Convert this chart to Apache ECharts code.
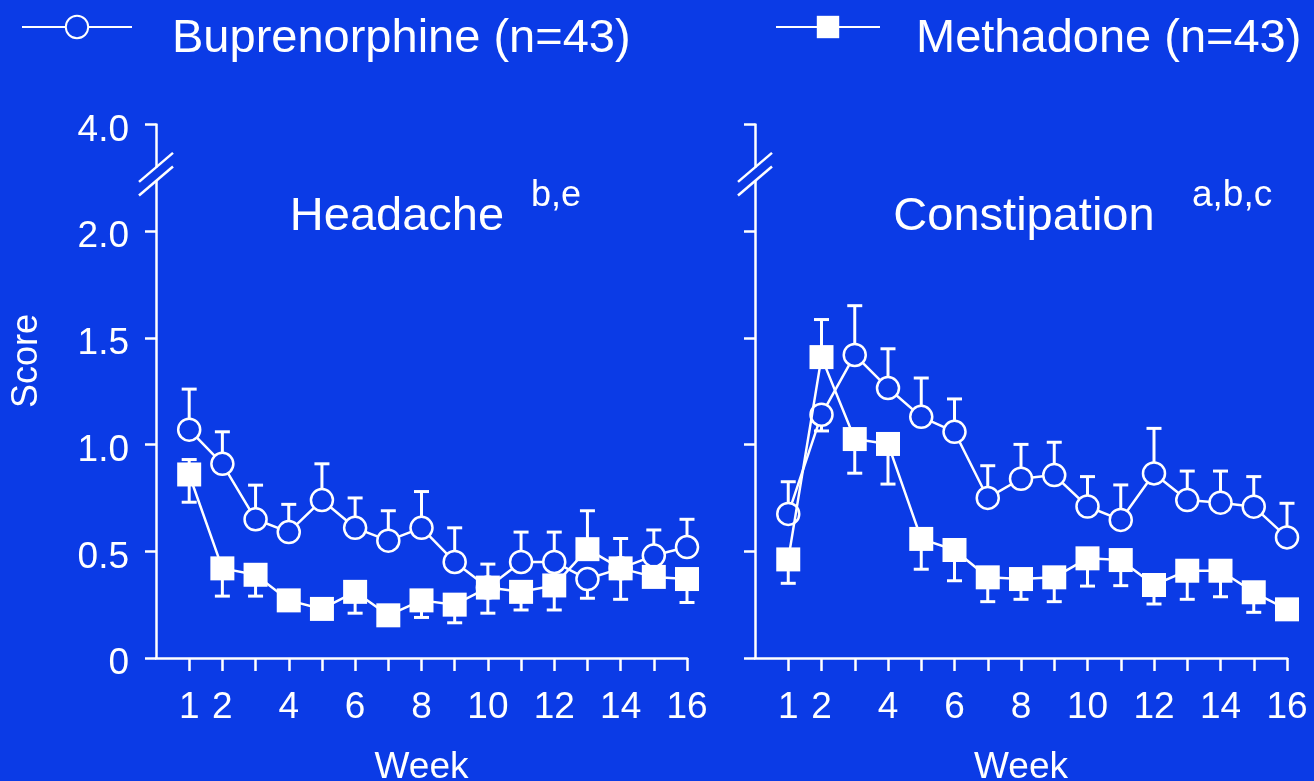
<!DOCTYPE html>
<html>
<head>
<meta charset="utf-8">
<title>Headache and constipation scores by week</title>
<script src="https://cdn.jsdelivr.net/npm/echarts@6/dist/echarts.min.js"></script>
<style>
  html, body { margin: 0; padding: 0; background: #0b3be6; }
  #chart { width: 1314px; height: 781px; }
</style>
</head>
<body>
<div id="chart"></div>
<script>
// ---- data -------------------------------------------------------------
const weeks = [1, 2, 3, 4, 5, 6, 7, 8, 9, 10, 11, 12, 13, 14, 15, 16];
const weekTickLabels = [1, 2, 4, 6, 8, 10, 12, 14, 16];

// score axis: the top tick sits above an axis break and reads 4.0
const scoreTicks = [0, 0.5, 1.0, 1.5, 2.0, 2.5];
const scoreTickLabels = ['0', '0.5', '1.0', '1.5', '2.0', '4.0'];

const seriesNames = ['Buprenorphine (n=43)', 'Methadone (n=43)'];
const panelTitles = ['Headache', 'Constipation'];
const panelNotes = ['b,e', 'a,b,c'];

// Headache
const headacheBup   = [1.07, 0.91, 0.65, 0.59, 0.74, 0.61, 0.55, 0.61, 0.45, 0.33, 0.45, 0.45, 0.37, 0.42, 0.48, 0.52];
const headacheBupHi = [1.26, 1.06, 0.81, 0.72, 0.91, 0.75, 0.69, 0.78, 0.61, 0.44, 0.59, 0.59, null, 0.56, 0.60, 0.65];
const headacheBupLo = [null, null, null, null, null, null, null, null, null, null, null, null, 0.28, null, null, null];
const headacheMet   = [0.86, 0.42, 0.39, 0.27, 0.23, 0.31, 0.20, 0.27, 0.25, 0.33, 0.31, 0.34, 0.51, 0.42, 0.38, 0.37];
const headacheMetHi = [0.93, null, null, null, null, null, null, null, null, null, null, null, 0.69, null, null, null];
const headacheMetLo = [0.73, 0.29, 0.29, null, null, 0.21, null, 0.19, 0.165, 0.21, 0.225, 0.225, null, 0.275, null, 0.26];

// Constipation
const constipBup   = [0.675, 1.14, 1.42, 1.265, 1.13, 1.06, 0.75, 0.84, 0.857, 0.71, 0.647, 0.865, 0.74, 0.728, 0.709, 0.565];
const constipBupHi = [0.826, null, 1.651, 1.449, 1.312, 1.214, 0.901, 1.001, 1.011, 0.85, 0.811, 1.076, 0.876, 0.876, 0.85, 0.725];
const constipBupLo = [null, 1.064, null, null, null, null, null, null, null, null, null, null, null, null, null, null];
const constipMet   = [0.462, 1.41, 1.026, 1.003, 0.558, 0.506, 0.378, 0.37, 0.378, 0.467, 0.459, 0.342, 0.409, 0.409, 0.308, 0.228];
const constipMetHi = [null, 1.586, null, null, null, null, null, null, null, null, null, null, null, null, null, null];
const constipMetLo = [0.35, null, 0.866, 0.815, 0.416, 0.362, 0.264, 0.275, 0.264, 0.337, 0.339, 0.253, 0.275, 0.287, 0.214, null];

// ---- styling ----------------------------------------------------------
const BG = '#0b3be6';
const FG = '#ffffff';
const FONT = '"Liberation Sans", Arial, Helvetica, sans-serif';
const BREAK_AT = 2.267; // where the axis break marks sit on the score scale

const chart = echarts.init(document.getElementById('chart'), null, { renderer: 'canvas' });

function pairs(values) {
  return weeks.map((w, i) => [w, values[i]]);
}
function whiskers(values, ends) {
  const out = [];
  weeks.forEach((w, i) => { if (ends[i] != null) out.push([w, values[i], ends[i]]); });
  return out;
}

function renderWhisker(params, api) {
  const x = api.value(0), v = api.value(1), e = api.value(2);
  const p0 = api.coord([x, v]);
  const p1 = api.coord([x, e]);
  const half = 7.5;
  const style = { stroke: FG, lineWidth: 3, fill: null };
  return {
    type: 'group',
    children: [
      { type: 'line', shape: { x1: p0[0], y1: p0[1], x2: p1[0], y2: p1[1] }, style },
      { type: 'line', shape: { x1: p1[0] - half, y1: p1[1], x2: p1[0] + half, y2: p1[1] }, style }
    ]
  };
}

function xAxisFor(gridIndex) {
  return {
    type: 'value', gridIndex, min: 0, max: 16, interval: 1,
    name: 'Week', nameLocation: 'middle', nameGap: 91,
    nameTextStyle: { color: FG, fontSize: 37, fontFamily: FONT },
    axisLine: { show: true, lineStyle: { color: FG, width: 2.5 } },
    axisTick: { show: true, inside: false, length: 13, lineStyle: { color: FG, width: 2.5 }, customValues: weeks },
    axisLabel: { show: true, color: FG, fontSize: 37, fontFamily: FONT, margin: 31, customValues: weekTickLabels },
    splitLine: { show: false }
  };
}

function yAxisFor(gridIndex, showLabels) {
  return {
    type: 'value', gridIndex, min: 0, max: 2.5, interval: 0.5,
    axisLine: { show: true, lineStyle: { color: FG, width: 2.5 } },
    axisTick: { show: true, inside: false, length: 11, lineStyle: { color: FG, width: 2.5 } },
    axisLabel: {
      show: showLabels, color: FG, fontSize: 37, fontFamily: FONT, margin: 27,
      // score labels sit a little below their ticks
      formatter: (v) => {
        const k = scoreTicks.findIndex(t => Math.abs(t - v) < 1e-6);
        return k >= 0 ? '{v|' + scoreTickLabels[k] + '}' : '';
      },
      rich: {
        v: { color: FG, fontSize: 37, fontFamily: FONT, padding: [12, 0, 0, 0] }
      }
    },
    splitLine: { show: false }
  };
}

function lineSeries(name, data, gridIndex, isSquare) {
  return {
    type: 'line', name, xAxisIndex: gridIndex, yAxisIndex: gridIndex,
    data: pairs(data),
    symbol: isSquare ? 'rect' : 'circle',
    symbolSize: isSquare ? 24 : 22,
    lineStyle: { color: FG, width: 2.5 },
    itemStyle: isSquare
      ? { color: FG, borderColor: FG, borderWidth: 0 }
      : { color: BG, borderColor: FG, borderWidth: 2.5 },
    z: isSquare ? 4 : 3,
    silent: true
  };
}

function whiskerSeries(data, gridIndex) {
  return {
    type: 'custom', xAxisIndex: gridIndex, yAxisIndex: gridIndex,
    renderItem: renderWhisker, data, z: 2, silent: true,
    encode: { x: 0, y: [1, 2] }
  };
}

// legend entries: a spacer line above the name drops the text below the key
function legendFor(name, left, keyWidth, leftPad) {
  return {
    data: [name], left, top: -10, itemWidth: keyWidth, itemHeight: 28,
    formatter: '{s| }\n{t|{name}}',
    textStyle: {
      color: FG, fontFamily: FONT, fontSize: 47,
      rich: {
        s: { fontSize: 10, lineHeight: 24, padding: [0, 0, 0, leftPad] },
        t: { color: FG, fontFamily: FONT, fontSize: 47, lineHeight: 54, padding: [0, 0, 0, leftPad] }
      }
    },
    selectedMode: false
  };
}

const option = {
  backgroundColor: BG,
  animation: false,
  textStyle: { fontFamily: FONT },
  grid: [
    { left: 156, top: 124.5, width: 531, height: 533.5, outerBoundsMode: 'none', containLabel: false },
    { left: 755, top: 124.5, width: 532, height: 533.5, outerBoundsMode: 'none', containLabel: false }
  ],
  xAxis: [xAxisFor(0), xAxisFor(1)],
  yAxis: [yAxisFor(0, true), yAxisFor(1, false)],
  legend: [legendFor(seriesNames[0], 16, 110, 35), legendFor(seriesNames[1], 770, 104, 31)],
  series: [
    whiskerSeries(whiskers(headacheBup, headacheBupHi).concat(whiskers(headacheBup, headacheBupLo)), 0),
    whiskerSeries(whiskers(headacheMet, headacheMetHi).concat(whiskers(headacheMet, headacheMetLo)), 0),
    whiskerSeries(whiskers(constipBup, constipBupHi).concat(whiskers(constipBup, constipBupLo)), 1),
    whiskerSeries(whiskers(constipMet, constipMetHi).concat(whiskers(constipMet, constipMetLo)), 1),
    lineSeries(seriesNames[0], headacheBup, 0, false),
    lineSeries(seriesNames[1], headacheMet, 0, true),
    lineSeries(seriesNames[0], constipBup, 1, false),
    lineSeries(seriesNames[1], constipMet, 1, true)
  ]
};

chart.setOption(option);

// ---- panel titles, axis title and axis-break marks ---------------------
function breakMarks(gridIndex) {
  const c = chart.convertToPixel({ gridIndex }, [0, BREAK_AT]);
  const x = c[0], y = c[1];
  const dx = 17, dy = 14.5, sep = 6.8;
  const lineStyle = { stroke: FG, lineWidth: 2.5 };
  return [
    { type: 'rect', shape: { x: x - 4, y: y - sep, width: 8, height: sep * 2 }, style: { fill: BG }, z: 10 },
    { type: 'line', shape: { x1: x - dx, y1: y - sep + dy, x2: x + dx, y2: y - sep - dy }, style: lineStyle, z: 11 },
    { type: 'line', shape: { x1: x - dx, y1: y + sep + dy, x2: x + dx, y2: y + sep - dy }, style: lineStyle, z: 11 }
  ];
}

const titleCenters = [397, 1024];
const noteLefts = [531, 1192];
const noteSizes = [36, 37];
const graphics = [];
panelTitles.forEach((t, i) => {
  graphics.push({
    type: 'text', x: titleCenters[i], y: 217, z: 12,
    style: { text: t, fill: FG, font: '47px ' + FONT, textAlign: 'center', textVerticalAlign: 'middle' }
  });
  graphics.push({
    type: 'text', x: noteLefts[i], y: 196, z: 12,
    style: { text: panelNotes[i], fill: FG, font: noteSizes[i] + 'px ' + FONT, textAlign: 'left', textVerticalAlign: 'middle' }
  });
});
graphics.push({
  type: 'text', x: 27, y: 361, rotation: Math.PI / 2, z: 12,
  style: { text: 'Score', fill: FG, font: '36px ' + FONT, textAlign: 'center', textVerticalAlign: 'middle' }
});
graphics.push(...breakMarks(0), ...breakMarks(1));

chart.setOption({ graphic: graphics });
</script>
</body>
</html>
